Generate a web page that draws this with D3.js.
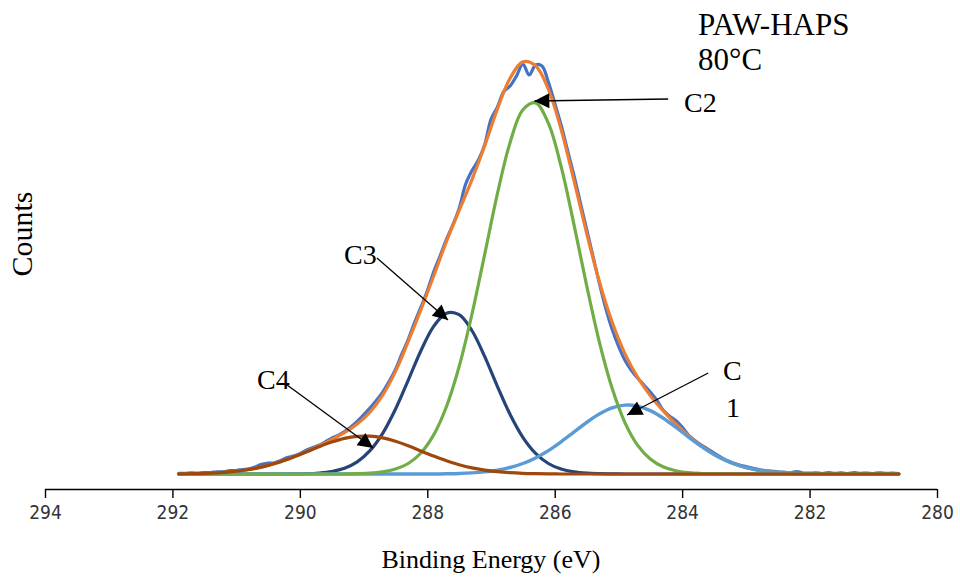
<!DOCTYPE html>
<html>
<head>
<meta charset="utf-8">
<script src="https://cdn.jsdelivr.net/npm/d3@7"></script>
<style>
  html, body { margin: 0; padding: 0; background: #fff; }
  svg { display: block; }
</style>
</head>
<body>
<svg id="chart" width="960" height="584"></svg>
<script>
// C 1s spectrum, PAW-HAPS treated at 80 °C: measured counts, fitted envelope and four components.

// Binding-energy grid of the fitted curves (eV)
const fitEnergy = [291.9, 291.7, 291.5, 291.3, 291.1, 290.9, 290.7, 290.5, 290.3, 290.1,
  289.9, 289.7, 289.5, 289.3, 289.1, 288.9, 288.7, 288.5, 288.3, 288.1,
  287.9, 287.7, 287.5, 287.3, 287.1, 286.9, 286.7, 286.5, 286.3, 286.1,
  285.9, 285.7, 285.5, 285.3, 285.1, 284.9, 284.7, 284.5, 284.3, 284.1,
  283.9, 283.7, 283.5, 283.3, 283.1, 282.9, 282.7, 282.5, 282.3, 282.1,
  281.9, 281.7, 281.5, 281.3, 281.1, 280.9, 280.7, 280.6];

// Component C1
const c1Counts = [150, 150, 150, 150, 150, 150, 150, 150, 150, 150,
  150, 150, 150, 150, 150, 150, 150, 150, 150, 150,
  150, 152, 155, 161, 171, 188, 215, 255, 311, 384,
  472, 568, 665, 750, 811, 839, 829, 784, 710, 618,
  519, 426, 345, 281, 233, 200, 178, 165, 158, 154,
  152, 150, 150, 150, 150, 150, 150, 150];

// Component C2
const c2Counts = [150, 150, 150, 150, 150, 150, 150, 150, 150, 150,
  150, 150, 150, 150, 153, 158, 171, 199, 255, 360,
  541, 823, 1225, 1745, 2344, 2951, 3466, 3792, 3861, 3658,
  3226, 2652, 2039, 1472, 1009, 667, 439, 300, 222, 182,
  163, 155, 152, 150, 150, 150, 150, 150, 150, 150,
  150, 150, 150, 150, 150, 150, 150, 150];

// Component C3
const c3Counts = [150, 150, 150, 150, 150, 150, 150, 150, 150, 151,
  153, 160, 175, 207, 271, 383, 557, 798, 1087, 1383,
  1626, 1758, 1743, 1585, 1326, 1027, 745, 517, 356, 255,
  199, 171, 158, 153, 151, 150, 150, 150, 150, 150,
  150, 150, 150, 150, 150, 150, 150, 150, 150, 150,
  150, 150, 150, 150, 150, 150, 150, 150];

// Component C4
const c4Counts = [152, 153, 156, 162, 171, 185, 206, 236, 273, 319,
  370, 422, 469, 506, 526, 528, 511, 477, 432, 380,
  329, 282, 242, 211, 189, 173, 163, 157, 154, 152,
  150, 150, 150, 150, 150, 150, 150, 150, 150, 150,
  150, 150, 150, 150, 150, 150, 150, 150, 150, 150,
  150, 150, 150, 150, 150, 150, 150, 150];

// Fitted envelope
const envelopeCounts = [152, 153, 156, 162, 171, 185, 206, 236, 273, 320,
  373, 432, 494, 563, 650, 769, 939, 1174, 1474, 1793,
  2130, 2473, 2785, 3092, 3430, 3799, 4109, 4271, 4232, 3999,
  3597, 3091, 2562, 2075, 1671, 1356, 1118, 934, 782, 650,
  532, 431, 347, 281, 233, 200, 178, 165, 158, 154,
  152, 150, 150, 150, 150, 150, 150, 150];

// Measured spectrum, 0.1 eV steps
const rawEnergy = [291.9, 291.8, 291.7, 291.6, 291.5, 291.4, 291.3, 291.2, 291.1, 291.0,
  290.9, 290.8, 290.7, 290.6, 290.5, 290.4, 290.3, 290.2, 290.1, 290.0,
  289.9, 289.8, 289.7, 289.6, 289.5, 289.4, 289.3, 289.2, 289.1, 289.0,
  288.9, 288.8, 288.7, 288.6, 288.5, 288.4, 288.3, 288.2, 288.1, 288.0,
  287.9, 287.8, 287.7, 287.6, 287.5, 287.4, 287.3, 287.2, 287.1, 287.0,
  286.9, 286.8, 286.7, 286.6, 286.5, 286.4, 286.3, 286.2, 286.1, 286.0,
  285.9, 285.8, 285.7, 285.6, 285.5, 285.4, 285.3, 285.2, 285.1, 285.0,
  284.9, 284.8, 284.7, 284.6, 284.5, 284.4, 284.3, 284.2, 284.1, 284.0,
  283.9, 283.8, 283.7, 283.6, 283.5, 283.4, 283.3, 283.2, 283.1, 283.0,
  282.9, 282.8, 282.7, 282.6, 282.5, 282.4, 282.3, 282.2, 282.1, 282.0,
  281.9, 281.8, 281.7, 281.6, 281.5, 281.4, 281.3, 281.2, 281.1, 281.0,
  280.9, 280.8, 280.7, 280.6];
const rawCounts = [157, 156, 161, 159, 165, 164, 172, 172, 183, 185,
  195, 203, 221, 248, 258, 262, 285, 314, 330, 354,
  388, 414, 437, 472, 509, 535, 573, 619, 675, 741,
  809, 884, 969, 1075, 1194, 1348, 1494, 1665, 1818, 1980,
  2170, 2330, 2493, 2640, 2805, 3045, 3182, 3288, 3440, 3698,
  3819, 3973, 4030, 4130, 4250, 4140, 4240, 4230, 4070, 3860,
  3640, 3390, 3140, 2870, 2600, 2330, 2060, 1810, 1600, 1430,
  1290, 1190, 1110, 1040, 970, 890, 790, 730, 685, 620,
  540, 485, 440, 400, 360, 320, 285, 260, 240, 225,
  210, 195, 185, 180, 172, 168, 162, 175, 160, 158,
  162, 155, 165, 156, 161, 154, 163, 157, 160, 155,
  162, 156, 159, 155];

// Axis ticks
const xTicks = [294, 292, 290, 288, 286, 284, 282, 280];

// Peak call-outs: label, arrow head (energy, counts), arrow tail (energy, counts)
const calloutLabels = ["C2", "C3", "C4", "C1"];
const calloutHead = [[286.32, 3880], [287.675, 1690], [288.85, 410], [284.865, 740]];
const calloutTail = [[284.22, 3900], [288.79, 2310], [290.20, 1040], [283.59, 1160]];

const svg = d3.select("#chart");
const x = d3.scaleLinear().domain([294, 280]).range([45, 937]);
const y = d3.scaleLinear().domain([0, 4600]).range([489, 29]);

const serif = "'Liberation Serif', 'Times New Roman', serif";

// x axis
const xAxis = d3.axisBottom(x).tickValues(xTicks).tickSize(9).tickPadding(8)
  .tickFormat(d3.format("d"));
const gx = svg.append("g").attr("transform", `translate(0,${y(0)})`).call(xAxis);
gx.select(".domain").attr("stroke", "#000").attr("stroke-width", 1.4)
  .attr("d", `M${x(294)},0.5H${x(280)}`);
gx.selectAll(".tick line").attr("stroke", "#000").attr("stroke-width", 1.4);
gx.selectAll(".tick text")
  .attr("font-family", "'Liberation Sans Narrow', 'Arial Narrow', 'DejaVu Sans Condensed', sans-serif")
  .attr("font-size", 19).attr("fill", "#333");

// curves
const line = d3.line().x(d => x(d[0])).y(d => y(d[1])).curve(d3.curveCatmullRom.alpha(0.5));
const pair = (es, vs) => es.map((e, i) => [e, vs[i]]);

const series = [
  { values: pair(rawEnergy, rawCounts), color: "#4472C4", width: 3.2 },
  { values: pair(fitEnergy, envelopeCounts), color: "#ED7D31", width: 3.2 },
  { values: pair(fitEnergy, c3Counts), color: "#264478", width: 3.2 },
  { values: pair(fitEnergy, c1Counts), color: "#5B9BD5", width: 3.4 },
  { values: pair(fitEnergy, c2Counts), color: "#70AD47", width: 3.2 },
  { values: pair(fitEnergy, c4Counts), color: "#9E480E", width: 3.2 }
];

svg.append("g").selectAll("path").data(series).join("path")
  .attr("d", d => line(d.values))
  .attr("fill", "none")
  .attr("stroke", d => d.color)
  .attr("stroke-width", d => d.width)
  .attr("stroke-linejoin", "round")
  .attr("stroke-linecap", "round");

// arrow heads
svg.append("defs").append("marker")
  .attr("id", "head").attr("viewBox", "0 0 10 10")
  .attr("refX", 10).attr("refY", 5)
  .attr("markerWidth", 17).attr("markerHeight", 15)
  .attr("markerUnits", "userSpaceOnUse")
  .attr("orient", "auto")
  .append("path").attr("d", "M0,0L10,5L0,10Z").attr("fill", "#000");

const callouts = calloutLabels.map((t, i) => ({ label: t, head: calloutHead[i], tail: calloutTail[i] }));
svg.append("g").selectAll("line").data(callouts).join("line")
  .attr("x1", d => x(d.tail[0])).attr("y1", d => y(d.tail[1]))
  .attr("x2", d => x(d.head[0])).attr("y2", d => y(d.head[1]))
  .attr("stroke", "#000").attr("stroke-width", 1.3)
  .attr("marker-end", "url(#head)");

// text labels
const label = (txt, px, py, size) => svg.append("text")
  .attr("x", px).attr("y", py)
  .attr("font-family", serif).attr("font-size", size).attr("fill", "#000")
  .text(txt);

label("PAW-HAPS", 698, 35, 31);
label("80°C", 698, 70, 31);
label("C2", 684, 112, 28);
label("C3", 344, 264, 28);
label("C4", 257, 389, 28);
label("C", 723, 380, 28);
label("1", 726, 417, 28);

// axis titles
svg.append("text")
  .attr("x", 491).attr("y", 568).attr("text-anchor", "middle")
  .attr("font-family", serif).attr("font-size", 26).attr("fill", "#000")
  .text("Binding Energy (eV)");

svg.append("text")
  .attr("transform", "translate(32,234) rotate(-90)")
  .attr("text-anchor", "middle")
  .attr("font-family", serif).attr("font-size", 30).attr("fill", "#000")
  .text("Counts");
</script>
</body>
</html>
